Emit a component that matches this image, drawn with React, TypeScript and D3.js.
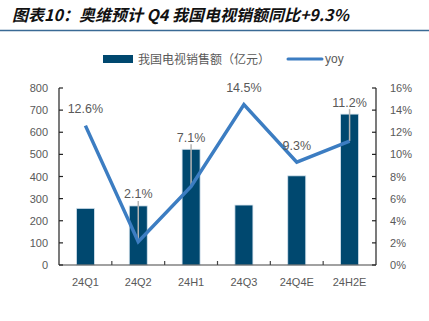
import React from "react";
import * as d3 from "d3";

const categories = ["24Q1", "24Q2", "24H1", "24Q3", "24Q4E", "24H2E"];
const sales = [256, 267, 523, 271, 403, 682];
const yoy = [12.6, 2.1, 7.1, 14.5, 9.3, 11.2];
const leftTicks = [0, 100, 200, 300, 400, 500, 600, 700, 800];
const rightTicks = [0, 2, 4, 6, 8, 10, 12, 14, 16];

const W = 429;
const H = 321;
const M = { left: 59, right: 376, top: 88, bottom: 265 };
const barColor = "#00486f";
const lineColor = "#3c7dc2";
const textColor = "#595959";
const numFont = "'Liberation Sans', Arial, sans-serif";
const cjkFont = "'Noto Sans CJK SC', sans-serif";

export default function App() {
  const x = d3.scaleBand<string>().domain(categories).range([M.left, M.right]);
  const yL = d3.scaleLinear().domain([0, 800]).range([M.bottom, M.top]);
  const yR = d3.scaleLinear().domain([0, 16]).range([M.bottom, M.top]);
  const bw = 18;
  const cx = (c: string) => (x(c) as number) + x.bandwidth() / 2;

  const pts: [number, number][] = categories.map((c, i) => [cx(c), yR(yoy[i])]);
  const line = d3.line<[number, number]>().x((d) => d[0]).y((d) => d[1]);

  return (
    <svg width={W} height={H} style={{ position: "absolute", left: 0, top: 0, background: "#fff" }}>
      {/* title */}
      <text x={12} y={21} fontFamily={cjkFont} fontSize={16} fontWeight="bold" fontStyle="italic" fill="#111">
        图表10：奥维预计 Q4 我国电视销额同比+9.3%
      </text>
      <line x1={0} x2={W} y1={30.5} y2={30.5} stroke="#3a6a95" strokeWidth={1.5} />

      {/* legend */}
      <rect x={103} y={55} width={30} height={8} fill={barColor} />
      <text x={138} y={63.5} fontFamily={cjkFont} fontSize={12} fill={textColor}>
        我国电视销售额（亿元）
      </text>
      <line x1={288} x2={322} y1={59} y2={59} stroke={lineColor} strokeWidth={3} strokeLinecap="round" />
      <text x={325} y={63} fontFamily={numFont} fontSize={12} fill={textColor}>
        yoy
      </text>

      {/* bars */}
      {categories.map((c, i) => (
        <rect
          key={c}
          x={cx(c) - bw / 2}
          y={yL(sales[i])}
          width={bw}
          height={M.bottom - yL(sales[i])}
          fill={barColor}
          stroke="#d5e3ee"
          strokeWidth={0.8}
        />
      ))}

      {/* axes */}
      <line x1={M.left} x2={M.left} y1={M.top} y2={M.bottom} stroke="#222" strokeWidth={1.2} />
      <line x1={M.right} x2={M.right} y1={M.top} y2={M.bottom} stroke="#222" strokeWidth={1.2} />
      <line x1={M.left} x2={M.right} y1={M.bottom} y2={M.bottom} stroke="#444" strokeWidth={1.2} />
      {leftTicks.map((t) => (
        <g key={"l" + t}>
          <line x1={M.left} x2={M.left + 4} y1={yL(t)} y2={yL(t)} stroke="#222" strokeWidth={1.2} />
          <text x={48} y={yL(t) + 4} textAnchor="end" fontFamily={numFont} fontSize={11} fill={textColor}>
            {t}
          </text>
        </g>
      ))}
      {rightTicks.map((t) => (
        <g key={"r" + t}>
          <line x1={M.right - 4} x2={M.right} y1={yR(t)} y2={yR(t)} stroke="#222" strokeWidth={1.2} />
          <text x={390} y={yR(t) + 4} textAnchor="start" fontFamily={numFont} fontSize={11} fill={textColor}>
            {t}%
          </text>
        </g>
      ))}
      {categories.slice(1).map((c) => (
        <line key={"t" + c} x1={x(c)} x2={x(c)} y1={M.bottom} y2={M.bottom - 4} stroke="#444" strokeWidth={1.2} />
      ))}
      {categories.map((c) => (
        <text key={"c" + c} x={cx(c)} y={286} textAnchor="middle" fontFamily={numFont} fontSize={11} fill={textColor}>
          {c}
        </text>
      ))}

      {/* leader lines */}
      {categories.map((c, i) => {
        const barTop = yL(sales[i]);
        const py = yR(yoy[i]);
        if (barTop >= py) return null;
        const ly = barTop - 12;
        return (
          <line key={"ld" + c} x1={cx(c)} x2={cx(c)} y1={ly + 7} y2={py} stroke="#b4b4b4" strokeWidth={1.5} />
        );
      })}

      {/* line */}
      <path d={line(pts) || ""} fill="none" stroke={lineColor} strokeWidth={3.5} strokeLinejoin="miter" />

      {/* labels */}
      {categories.map((c, i) => {
        const barTop = yL(sales[i]);
        const py = yR(yoy[i]);
        const ly = barTop < py ? barTop - 12 : py - 17;
        return (
          <text key={"lb" + c} x={cx(c)} y={ly + 4.5} textAnchor="middle" fontFamily={numFont} fontSize={12.5} fill={textColor}>
            {yoy[i].toFixed(1)}%
          </text>
        );
      })}
    </svg>
  );
}
